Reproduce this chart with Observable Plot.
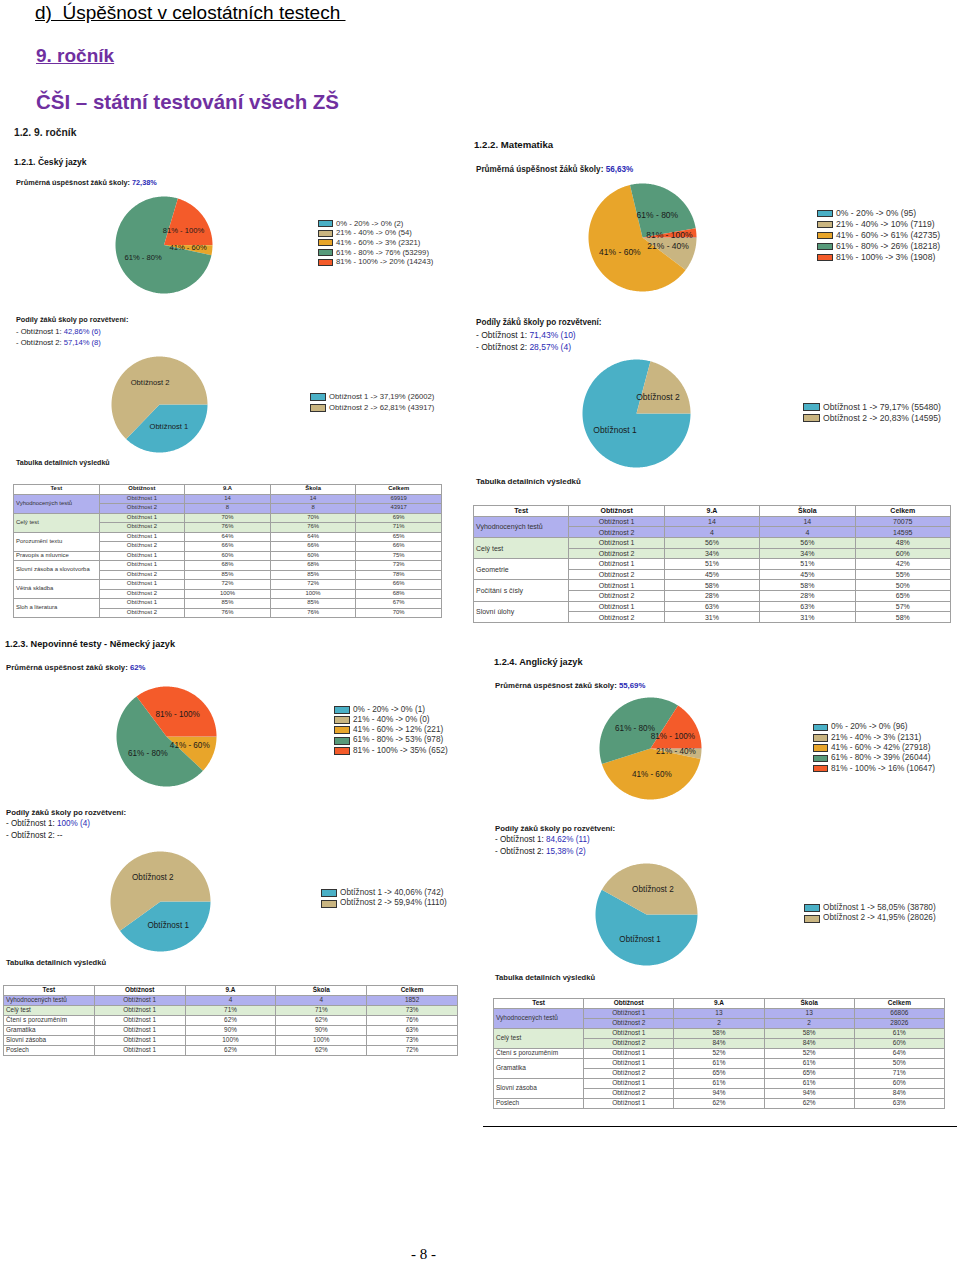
<!DOCTYPE html>
<html><head><meta charset="utf-8">
<script src="https://cdn.jsdelivr.net/npm/d3@7"></script>
<script src="https://cdn.jsdelivr.net/npm/@observablehq/plot@0.6"></script>
<style>
body{margin:0;background:#fff;font-family:"Liberation Sans",Arial,sans-serif;}
#page{position:relative;width:960px;height:1261px;overflow:hidden;background:#fff;}
.t{position:absolute;white-space:nowrap;color:#1a1a1a;}
.v{color:#2a2ab4;}
.sw{position:absolute;box-sizing:border-box;border:1px solid #333;}
table.res{position:absolute;border-collapse:collapse;table-layout:fixed;color:#333;border:1px solid #777;}
table.res td,table.res th{border:1px solid #a0a0a0;padding:0 2px;text-align:center;overflow:hidden;white-space:nowrap;line-height:1;font-weight:normal;}
table.res th{color:#111;font-weight:bold;}
table.res td.tst{text-align:left;}
.plot{position:absolute;}
</style>
</head><body><div id="page"></div>
<script>
// ---------- DATA ----------
const levels = ["0% - 20%", "21% - 40%", "41% - 60%", "61% - 80%", "81% - 100%"];
const levelColors = ["#4ab0c6", "#c9b581", "#e8a52a", "#579a7a", "#f45b2a"];
const difficulties = ["Obtížnost 1", "Obtížnost 2"];
const difficultyColors = ["#4ab0c6", "#c9b581"];

const czCounts = [2, 54, 2321, 53299, 14243];
const czPct = ["0%", "0%", "3%", "76%", "20%"];
const maCounts = [95, 7119, 42735, 18218, 1908];
const maPct = ["0%", "10%", "61%", "26%", "3%"];
const deCounts = [1, 0, 221, 978, 652];
const dePct = ["0%", "0%", "12%", "53%", "35%"];
const enCounts = [96, 2131, 27918, 26044, 10647];
const enPct = ["0%", "3%", "42%", "39%", "16%"];

const czDiffCounts = [26002, 43917];
const czDiffPct = ["37,19%", "62,81%"];
const maDiffCounts = [55480, 14595];
const maDiffPct = ["79,17%", "20,83%"];
const deDiffCounts = [742, 1110];
const deDiffPct = ["40,06%", "59,94%"];
const enDiffCounts = [38780, 28026];
const enDiffPct = ["58,05%", "41,95%"];

const czShares = ["42,86% (6)", "57,14% (8)"];
const maShares = ["71,43% (10)", "28,57% (4)"];
const deShares = ["100% (4)", null];
const enShares = ["84,62% (11)", "15,38% (2)"];

const averages = ["72,38%", "56,63%", "62%", "55,69%"];
const sectionTitles = ["1.2.1. Český jazyk", "1.2.2. Matematika", "1.2.3. Nepovinné testy - Německý jazyk", "1.2.4. Anglický jazyk"];

const tableHeader = ["Test", "Obtížnost", "9.A", "Škola", "Celkem"];
const czTable = [
  ["Vyhodnocených testů", [["Obtížnost 1", "14", "14", "69919"], ["Obtížnost 2", "8", "8", "43917"]]],
  ["Celý test", [["Obtížnost 1", "70%", "70%", "69%"], ["Obtížnost 2", "76%", "76%", "71%"]]],
  ["Porozumění textu", [["Obtížnost 1", "64%", "64%", "65%"], ["Obtížnost 2", "66%", "66%", "66%"]]],
  ["Pravopis a mluvnice", [["Obtížnost 1", "60%", "60%", "75%"]]],
  ["Slovní zásoba a slovotvorba", [["Obtížnost 1", "68%", "68%", "73%"], ["Obtížnost 2", "85%", "85%", "78%"]]],
  ["Větná skladba", [["Obtížnost 1", "72%", "72%", "66%"], ["Obtížnost 2", "100%", "100%", "68%"]]],
  ["Sloh a literatura", [["Obtížnost 1", "85%", "85%", "67%"], ["Obtížnost 2", "76%", "76%", "70%"]]]
];
const maTable = [
  ["Vyhodnocených testů", [["Obtížnost 1", "14", "14", "70075"], ["Obtížnost 2", "4", "4", "14595"]]],
  ["Celý test", [["Obtížnost 1", "56%", "56%", "48%"], ["Obtížnost 2", "34%", "34%", "60%"]]],
  ["Geometrie", [["Obtížnost 1", "51%", "51%", "42%"], ["Obtížnost 2", "45%", "45%", "55%"]]],
  ["Počítání s čísly", [["Obtížnost 1", "58%", "58%", "50%"], ["Obtížnost 2", "28%", "28%", "65%"]]],
  ["Slovní úlohy", [["Obtížnost 1", "63%", "63%", "57%"], ["Obtížnost 2", "31%", "31%", "58%"]]]
];
const deTable = [
  ["Vyhodnocených testů", [["Obtížnost 1", "4", "4", "1852"]]],
  ["Celý test", [["Obtížnost 1", "71%", "71%", "73%"]]],
  ["Čtení s porozuměním", [["Obtížnost 1", "62%", "62%", "76%"]]],
  ["Gramatika", [["Obtížnost 1", "90%", "90%", "63%"]]],
  ["Slovní zásoba", [["Obtížnost 1", "100%", "100%", "73%"]]],
  ["Poslech", [["Obtížnost 1", "62%", "62%", "72%"]]]
];
const enTable = [
  ["Vyhodnocených testů", [["Obtížnost 1", "13", "13", "66806"], ["Obtížnost 2", "2", "2", "28026"]]],
  ["Celý test", [["Obtížnost 1", "58%", "58%", "61%"], ["Obtížnost 2", "84%", "84%", "60%"]]],
  ["Čtení s porozuměním", [["Obtížnost 1", "52%", "52%", "64%"]]],
  ["Gramatika", [["Obtížnost 1", "61%", "61%", "50%"], ["Obtížnost 2", "65%", "65%", "71%"]]],
  ["Slovní zásoba", [["Obtížnost 1", "61%", "61%", "60%"], ["Obtížnost 2", "94%", "94%", "84%"]]],
  ["Poslech", [["Obtížnost 1", "62%", "62%", "63%"]]]
];

// ---------- HELPERS ----------
const page = document.getElementById("page");
const FONT = "'Liberation Sans', Arial, sans-serif";

function txt(x, y, size, html, extra = {}) {
  const d = document.createElement("div");
  d.className = "t";
  d.style.left = x + "px";
  d.style.top = (y - size * 0.62) + "px";
  d.style.fontSize = size + "px";
  d.style.lineHeight = (size * 1.2) + "px";
  d.innerHTML = html;
  Object.assign(d.style, extra);
  page.appendChild(d);
  return d;
}

function pie(cx, cy, r, names, colors, values, fs) {
  const total = d3.sum(values);
  const pts = [], labels = [];
  let cum = 0;
  values.forEach((v, i) => {
    const a0 = cum / total * 2 * Math.PI; cum += v; const a1 = cum / total * 2 * Math.PI;
    if (v <= 0) return;
    const n = Math.max(2, Math.ceil((a1 - a0) / (Math.PI / 180)));
    pts.push({k: names[i], x: 0, y: 0});
    for (let j = 0; j <= n; j++) {
      const a = a0 + (a1 - a0) * j / n;
      pts.push({k: names[i], x: Math.cos(a), y: Math.sin(a)});
    }
    if (v / total >= 0.01) {
      const am = (a0 + a1) / 2;
      labels.push({k: names[i], x: 0.5 * Math.cos(am), y: 0.5 * Math.sin(am)});
    }
  });
  const svg = Plot.plot({
    width: 2 * r + 2, height: 2 * r + 2, margin: 1,
    x: {domain: [-1, 1], axis: null},
    y: {domain: [-1, 1], axis: null, reverse: true},
    color: {domain: names, range: colors},
    style: {background: "transparent", fontFamily: FONT, overflow: "visible"},
    marks: [
      Plot.line(pts, {x: "x", y: "y", z: "k", fill: "k", stroke: "none"}),
      Plot.text(labels, {x: "x", y: "y", text: "k", fontSize: fs, fill: "#1a1a1a"})
    ]
  });
  svg.classList.add("plot");
  svg.style.position = "absolute";
  svg.style.left = (cx - r - 1) + "px";
  svg.style.top = (cy - r - 1) + "px";
  page.appendChild(svg);
}

function legend(bx, y0, step, bw, bh, fs, labels, colors) {
  labels.forEach((lab, i) => {
    const y = y0 + i * step;
    const b = document.createElement("div");
    b.className = "sw";
    b.style.left = bx + "px"; b.style.top = (y - bh / 2) + "px";
    b.style.width = bw + "px"; b.style.height = bh + "px";
    b.style.background = colors[i];
    page.appendChild(b);
    txt(bx + bw + 3, y, fs, lab, {color: "#333"});
  });
}

function table(x, y, w, h, groups, fs) {
  const nRows = 1 + d3.sum(groups, g => g[1].length);
  const rh = h / nRows;
  const t = document.createElement("table");
  t.className = "res";
  Object.assign(t.style, {left: x + "px", top: y + "px", width: w + "px", height: h + "px", fontSize: fs + "px"});
  const hr = document.createElement("tr");
  hr.style.height = rh + "px";
  tableHeader.forEach(hd => { const th = document.createElement("th"); th.textContent = hd; hr.appendChild(th); });
  t.appendChild(hr);
  groups.forEach((g, gi) => {
    const bg = gi === 0 ? "#b0b0ee" : gi === 1 ? "#ddedd5" : "#fff";
    g[1].forEach((row, ri) => {
      const tr = document.createElement("tr");
      tr.style.height = rh + "px";
      if (ri === 0) {
        const td = document.createElement("td");
        td.className = "tst"; td.rowSpan = g[1].length; td.textContent = g[0]; td.style.background = bg;
        tr.appendChild(td);
      }
      row.forEach(v => { const td = document.createElement("td"); td.textContent = v; td.style.background = bg; tr.appendChild(td); });
      t.appendChild(tr);
    });
  });
  page.appendChild(t);
}

function levelLabels(counts, pct) { return levels.map((l, i) => `${l} -> ${pct[i]} (${counts[i]})`); }
function diffLabels(counts, pct) { return difficulties.map((l, i) => `${l} -> ${pct[i]} (${counts[i]})`); }

// ---------- PAGE HEADER ----------
txt(35, 14, 19, "d)&nbsp; Úspěšnost v celostátních testech&nbsp;", {textDecoration: "underline", color: "#000"});
txt(36, 57, 19, "9. ročník", {textDecoration: "underline", color: "#7030a0", fontWeight: "bold"});
txt(36, 103, 20.5, "ČŠI – státní testování všech ZŠ", {color: "#7030a0", fontWeight: "bold"});
txt(14, 133, 10.3, "1.2. 9. ročník", {fontWeight: "bold"});

// ---------- SECTIONS ----------
const sections = [
  {s: 1.0, title: [14, 162], avg: [16, 184], pie: [163, 244, 48.5], leg: [318, 223.3, 9.7, 15, 7],
   pod: [16, 321, 11], pie2: [159, 404, 48], leg2: [310, 397, 10.5, 16, 8], tab: [16, 463],
   table: [13, 484, 429, 133, 5.9], counts: czCounts, pct: czPct, dc: czDiffCounts, dp: czDiffPct, sh: czShares, tb: czTable},
  {s: 1.12, title: [474, 145], avg: [476, 170], pie: [642, 237, 54], leg: [817, 213.7, 10.9, 16, 7.5],
   pod: [476, 323, 12], pie2: [635.5, 413, 54], leg2: [803, 407, 11, 17, 8], tab: [476, 482],
   table: [473, 505, 478, 117, 7.0], counts: maCounts, pct: maPct, dc: maDiffCounts, dp: maDiffPct, sh: maShares, tb: maTable},
  {s: 1.07, title: [5, 645], avg: [6, 668], pie: [166, 736, 50], leg: [334, 710, 10.2, 16, 8],
   pod: [6, 813, 11.5], pie2: [159.5, 901, 50], leg2: [321, 893, 10.5, 16, 8], tab: [6, 963],
   table: [3, 985, 455, 70, 6.4], counts: deCounts, pct: dePct, dc: deDiffCounts, dp: deDiffPct, sh: deShares, tb: deTable},
  {s: 1.07, title: [494, 663], avg: [495, 686], pie: [650, 748, 51], leg: [813, 727.5, 10.3, 15, 7.5],
   pod: [495, 829, 11.5], pie2: [646, 913.5, 51], leg2: [804, 908, 10.5, 16, 8], tab: [495, 978],
   table: [493, 998, 452, 110, 6.5], counts: enCounts, pct: enPct, dc: enDiffCounts, dp: enDiffPct, sh: enShares, tb: enTable}
];

sections.forEach((c, i) => {
  const s = c.s;
  txt(c.title[0], c.title[1], 8.6 * s, sectionTitles[i], {fontWeight: "bold", color: "#111"});
  txt(c.avg[0], c.avg[1], 7.3 * s, `Průměrná úspěšnost žáků školy: <span class="v">${averages[i]}</span>`, {fontWeight: "bold"});
  pie(c.pie[0], c.pie[1], c.pie[2], levels, levelColors, c.counts, 7.6 * s);
  legend(c.leg[0], c.leg[1], c.leg[2], c.leg[3], c.leg[4], 7.7 * s, levelLabels(c.counts, c.pct), levelColors);
  txt(c.pod[0], c.pod[1], 7.3 * s, "Podíly žáků školy po rozvětvení:", {fontWeight: "bold"});
  difficulties.forEach((d, k) => {
    const val = c.sh[k] ? `<span class="v">${c.sh[k]}</span>` : "--";
    txt(c.pod[0], c.pod[1] + (k + 1) * c.pod[2], 7.6 * s, `- ${d}: ${val}`);
  });
  pie(c.pie2[0], c.pie2[1], c.pie2[2], difficulties, difficultyColors, c.dc, 7.6 * s);
  legend(c.leg2[0], c.leg2[1], c.leg2[2], c.leg2[3], c.leg2[4], 7.7 * s, diffLabels(c.dc, c.dp), difficultyColors);
  txt(c.tab[0], c.tab[1], 7.1 * s, "Tabulka detailních výsledků", {fontWeight: "bold"});
  table(c.table[0], c.table[1], c.table[2], c.table[3], c.tb, c.table[4]);
});

// ---------- FOOTER ----------
const rule = document.createElement("div");
Object.assign(rule.style, {position: "absolute", left: "483px", top: "1126px", width: "474px", height: "1px", background: "#000"});
page.appendChild(rule);
txt(411, 1254, 15, "- 8 -", {fontFamily: "'Liberation Serif', 'Times New Roman', serif", color: "#000"});
</script>
</body></html>
